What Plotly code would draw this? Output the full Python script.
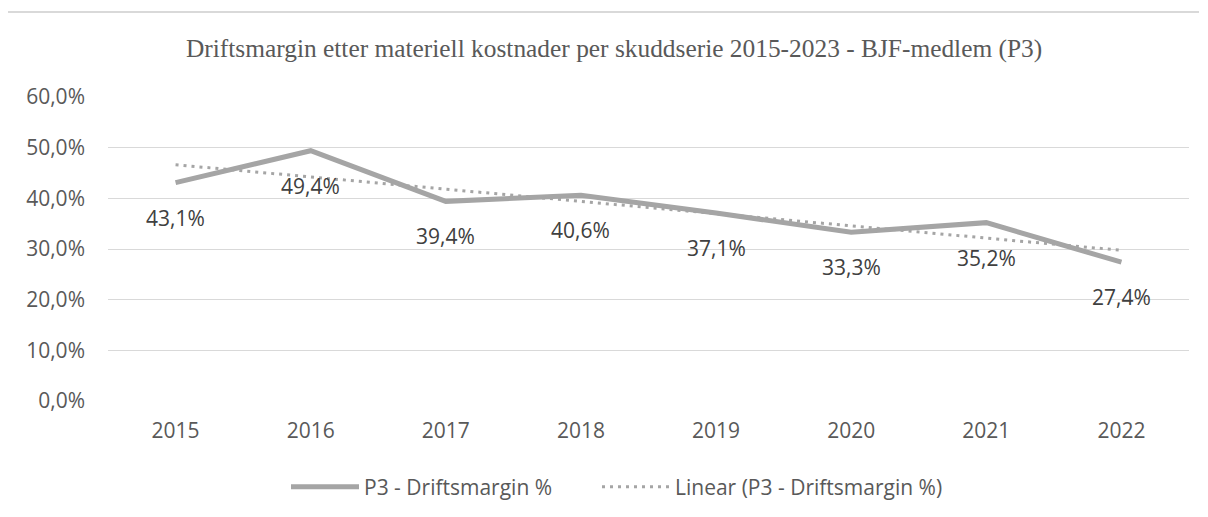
import numpy as np
import plotly.graph_objects as go

years = ["2015", "2016", "2017", "2018", "2019", "2020", "2021", "2022"]
margin_pct = [43.1, 49.4, 39.4, 40.6, 37.1, 33.3, 35.2, 27.4]
y_ticks = [0, 10, 20, 30, 40, 50, 60]

title_text = "Driftsmargin etter materiell kostnader per skuddserie 2015-2023 - BJF-medlem (P3)"
series_name = "P3 - Driftsmargin %"
trend_name = "Linear (P3 - Driftsmargin %)"

vals = np.array(margin_pct) / 100.0
idx = np.arange(len(vals))
slope, intercept = np.polyfit(idx, vals, 1)
trend = slope * idx + intercept

SANS = "Open Sans"
GRID = "#d9d9d9"
LINE = "#a5a5a5"

# page body has an 8px margin; figure sized so the page does not overflow the window
W, H = 1192, 501
L, R, T, B = 100, 11, 89, 108
PW, PH = W - L - R, H - T - B


def px_x(px):
    return (px - L) / PW


def px_y(py):
    return (H - B - py) / PH


fig = go.Figure()
fig.add_trace(go.Scatter(
    x=years, y=vals, mode="lines", name=series_name, legend="legend",
    line=dict(color=LINE, width=5),
))
fig.add_trace(go.Scatter(
    x=years, y=trend, mode="lines", name=trend_name, legend="legend2",
    line=dict(color=LINE, width=3, dash="3px,5px"),
))

for i, v in enumerate(vals):
    fig.add_annotation(
        x=i, y=v, xref="x", yref="y",
        text=f"{v*100:.1f}%".replace(".", ","),
        showarrow=False, yshift=-35,
        font=dict(family=SANS, size=21, color="#404040"),
    )

fig.add_annotation(
    text=title_text, xref="paper", yref="paper",
    x=px_x(606), y=px_y(41),
    showarrow=False, xanchor="center", yanchor="middle",
    font=dict(family="Liberation Serif", size=25.4, color="#595959"),
)

# chart frame: top edge
fig.add_shape(type="line", xref="paper", yref="paper",
              x0=px_x(0), x1=px_x(W - 1), y0=px_y(4), y1=px_y(4),
              line=dict(color=GRID, width=1.8))

legend_common = dict(
    orientation="h", xref="container", yref="container",
    xanchor="left", y=1 - 479 / H, yanchor="middle",
    font=dict(family=SANS, size=21, color="#595959"),
    itemwidth=68, bgcolor="rgba(0,0,0,0)",
)

fig.update_layout(
    width=W, height=H,
    margin=dict(l=L, r=R, t=T, b=B, autoexpand=False),
    paper_bgcolor="white", plot_bgcolor="rgba(0,0,0,0)",
    separators=", ",
    showlegend=True,
    legend=dict(x=278 / W, **legend_common),
    legend2=dict(x=589 / W, **legend_common),
    xaxis=dict(
        type="category", range=[-0.5, len(years) - 0.5],
        showgrid=False, zeroline=False, showline=False,
        tickfont=dict(family=SANS, size=21, color="#595959"),
        ticklabelstandoff=15,
    ),
    yaxis=dict(
        range=[0, 0.6], tickvals=[t / 100 for t in y_ticks], tickformat=".1%",
        showgrid=True, gridcolor=GRID, gridwidth=1.3, zeroline=False, showline=False,
        tickfont=dict(family=SANS, size=21, color="#595959"),
        ticklabelstandoff=22,
    ),
)

fig.write_html("out.html")
